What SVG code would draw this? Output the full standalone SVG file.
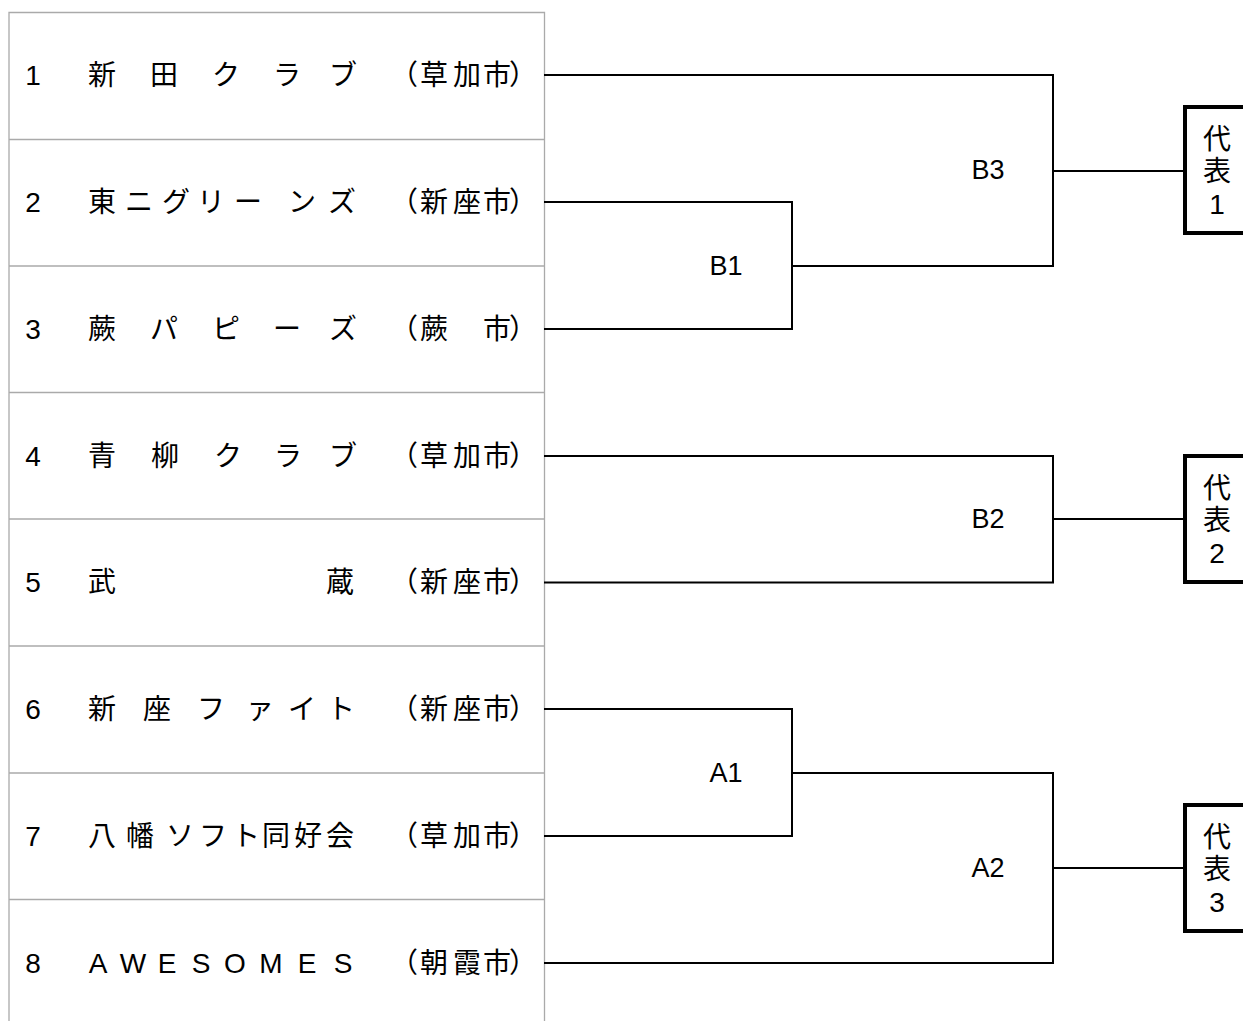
<svg xmlns="http://www.w3.org/2000/svg" width="1243" height="1021" viewBox="0 0 1243 1021">
<style>
text{font-family:"Liberation Sans","Noto Sans CJK JP",sans-serif;font-size:28px;fill:#000;text-anchor:middle;dominant-baseline:central}
.lbl{font-size:27px}
.grid{stroke:#aaa;stroke-width:1.3;fill:none}
.ln{stroke:#000;stroke-width:2;fill:none;stroke-linecap:square}
.box{stroke:#000;stroke-width:4;fill:#fff}
</style>
<rect width="1243" height="1021" fill="#fff"/>
<g id="table">
<path class="grid" d="M9 1021V12.5H544.5V1021M9 139.5H544.5M9 266H544.5M9 392.5H544.5M9 519H544.5M9 646H544.5M9 773H544.5M9 899.5H544.5"/>
</g>
<g id="team1"><text x="33" y="75">1</text><text x="102 164 226 287 343" y="75">新田クラブ</text><text x="404 434 467 497 523" y="75">（草加市）</text></g>
<g id="team2"><text x="33" y="202">2</text><text x="102 139 176 211 248 302 342" y="202">東ニグリーンズ</text><text x="404 434 467 497 523" y="202">（新座市）</text></g>
<g id="team3"><text x="33" y="329">3</text><text x="102 164 226 287 343" y="329">蕨パピーズ</text><text x="404 434 497 523" y="329">（蕨市）</text></g>
<g id="team4"><text x="33" y="456">4</text><text x="102 165 228 288 343" y="456">青柳クラブ</text><text x="404 434 467 497 523" y="456">（草加市）</text></g>
<g id="team5"><text x="33" y="582">5</text><text x="102 340" y="582">武蔵</text><text x="404 434 467 497 523" y="582">（新座市）</text></g>
<g id="team6"><text x="33" y="709">6</text><text x="102 157 211 260 302 341" y="709">新座ファイト</text><text x="404 434 467 497 523" y="709">（新座市）</text></g>
<g id="team7"><text x="33" y="836">7</text><text x="102 140 180 213 246 276 308 340" y="836">八幡ソフト同好会</text><text x="404 434 467 497 523" y="836">（草加市）</text></g>
<g id="team8"><text x="33" y="963">8</text><text x="98 133 167 201 235 271 307 343" y="963">AWESOMES</text><text x="404 434 467 497 523" y="963">（朝霞市）</text></g>
<g id="connectors">
<path class="ln" d="M545 75H1053V266M545 202H792V329H545M792 266H1053M1053 171H1183"/>
<path class="ln" d="M545 456H1053V582.5H545M1053 519H1183"/>
<path class="ln" d="M545 709H792V836H545M792 773H1053V963H545M1053 868H1183"/>
</g>
<g id="B1"><text class="lbl" x="726" y="266">B1</text></g>
<g id="B3"><text class="lbl" x="988" y="170">B3</text></g>
<g id="B2"><text class="lbl" x="988" y="519">B2</text></g>
<g id="A1"><text class="lbl" x="726" y="773">A1</text></g>
<g id="A2"><text class="lbl" x="988" y="868">A2</text></g>
<g id="rep1"><rect class="box" x="1185" y="107" width="80" height="126"/><text x="1217" y="139">代</text><text x="1217" y="171">表</text><text x="1217" y="204">1</text></g>
<g id="rep2"><rect class="box" x="1185" y="456" width="80" height="126"/><text x="1217" y="488">代</text><text x="1217" y="520">表</text><text x="1217" y="553">2</text></g>
<g id="rep3"><rect class="box" x="1185" y="805" width="80" height="126"/><text x="1217" y="837">代</text><text x="1217" y="869">表</text><text x="1217" y="902">3</text></g>
</svg>
